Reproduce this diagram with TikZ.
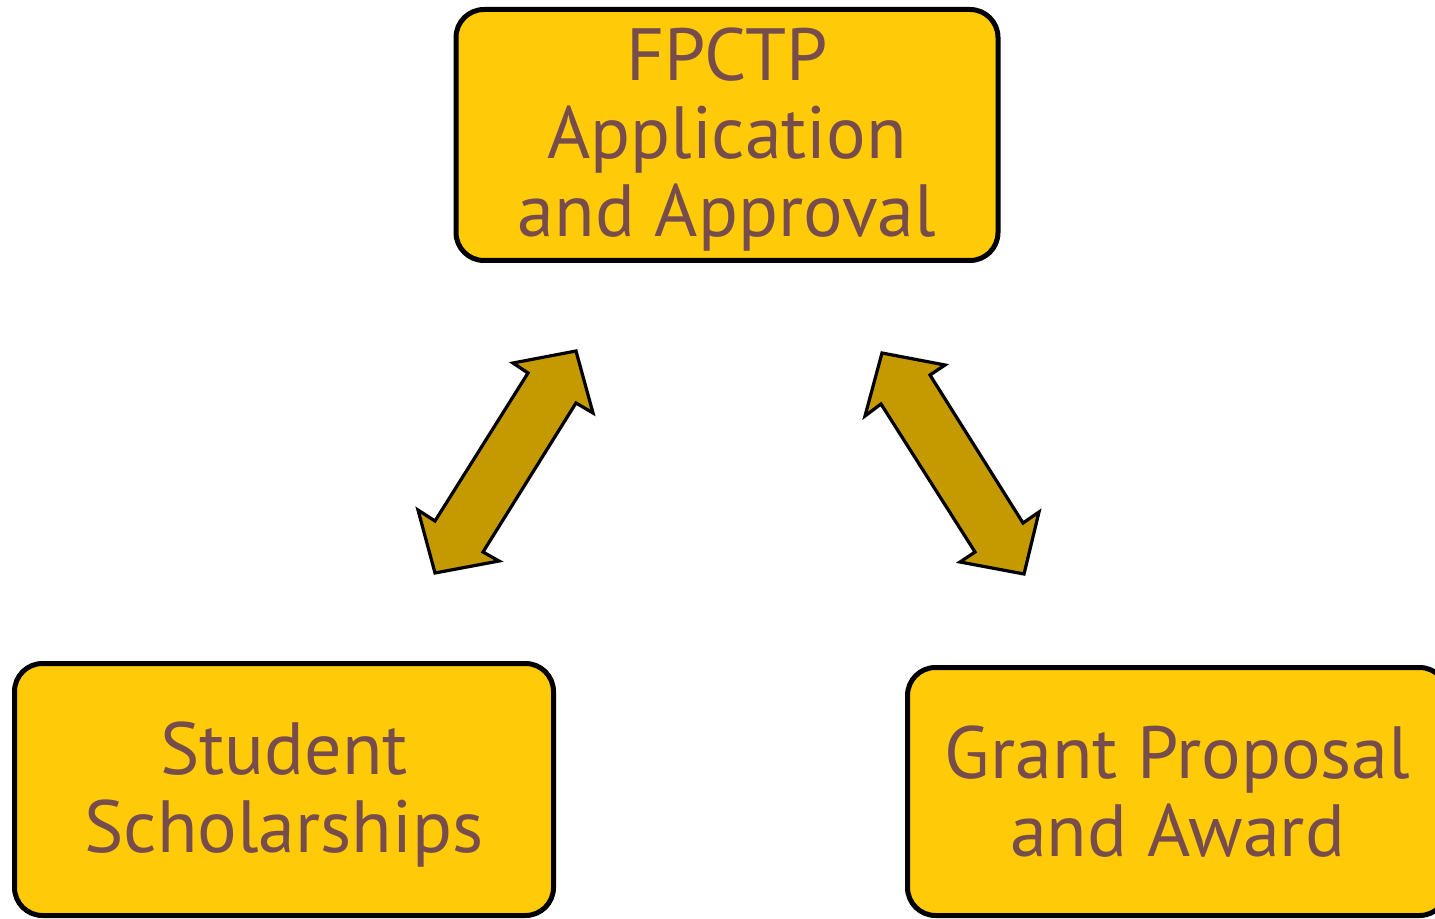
\documentclass[tikz,border=0pt]{standalone}
\usepackage{fontspec}
\setmainfont{PT Sans}
\definecolor{boxfill}{RGB}{255,202,8}
\definecolor{arrowfill}{RGB}{196,154,0}
\definecolor{txt}{RGB}{118,76,76}
\tikzset{
  box/.style={draw=black, line width=2.5pt, fill=boxfill, rounded corners=14pt, inner sep=0pt},
  lbl/.style={align=center, text=txt, inner sep=0pt,
    font=\fontsize{37pt}{39pt}\selectfont},
  blockarrow/.style={draw=black, line width=1.6pt, fill=arrowfill, line join=miter}
}
\begin{document}
\begin{tikzpicture}[x=0.5pt, y=-0.5pt]
\useasboundingbox (0,0) rectangle (1435,919);
\node[box, minimum width=271pt, minimum height=125.5pt] (top) at (727,135) {};
\node[lbl] (topT) at ([yshift=-2.5pt]top.center) {FPCTP\\Application\\and Approval};
\node[box, minimum width=269.5pt, minimum height=126pt] (left) at (284,789.5) {};
\node[lbl] (leftT) at ([yshift=-2.5pt]left.center) {Student\\Scholarships};
\node[box, minimum width=270pt, minimum height=124pt] (right) at (1177.5,791.5) {};
\node[lbl] (rightT) at (right.center) {Grant Proposal\\and Award};
% left double arrow
\draw[blockarrow] (576,351) -- (593,413) -- (576,403) -- (483,552) -- (499,561)
  -- (435,573) -- (418,510) -- (435,521) -- (528,373) -- (513,363) -- cycle;
% right double arrow
\draw[blockarrow] (882,353) -- (945,365) -- (930,375) -- (1023,523) -- (1039,512)
  -- (1024,574) -- (960,562) -- (975,552) -- (881,404) -- (865,416) -- cycle;
\end{tikzpicture}
\end{document}
